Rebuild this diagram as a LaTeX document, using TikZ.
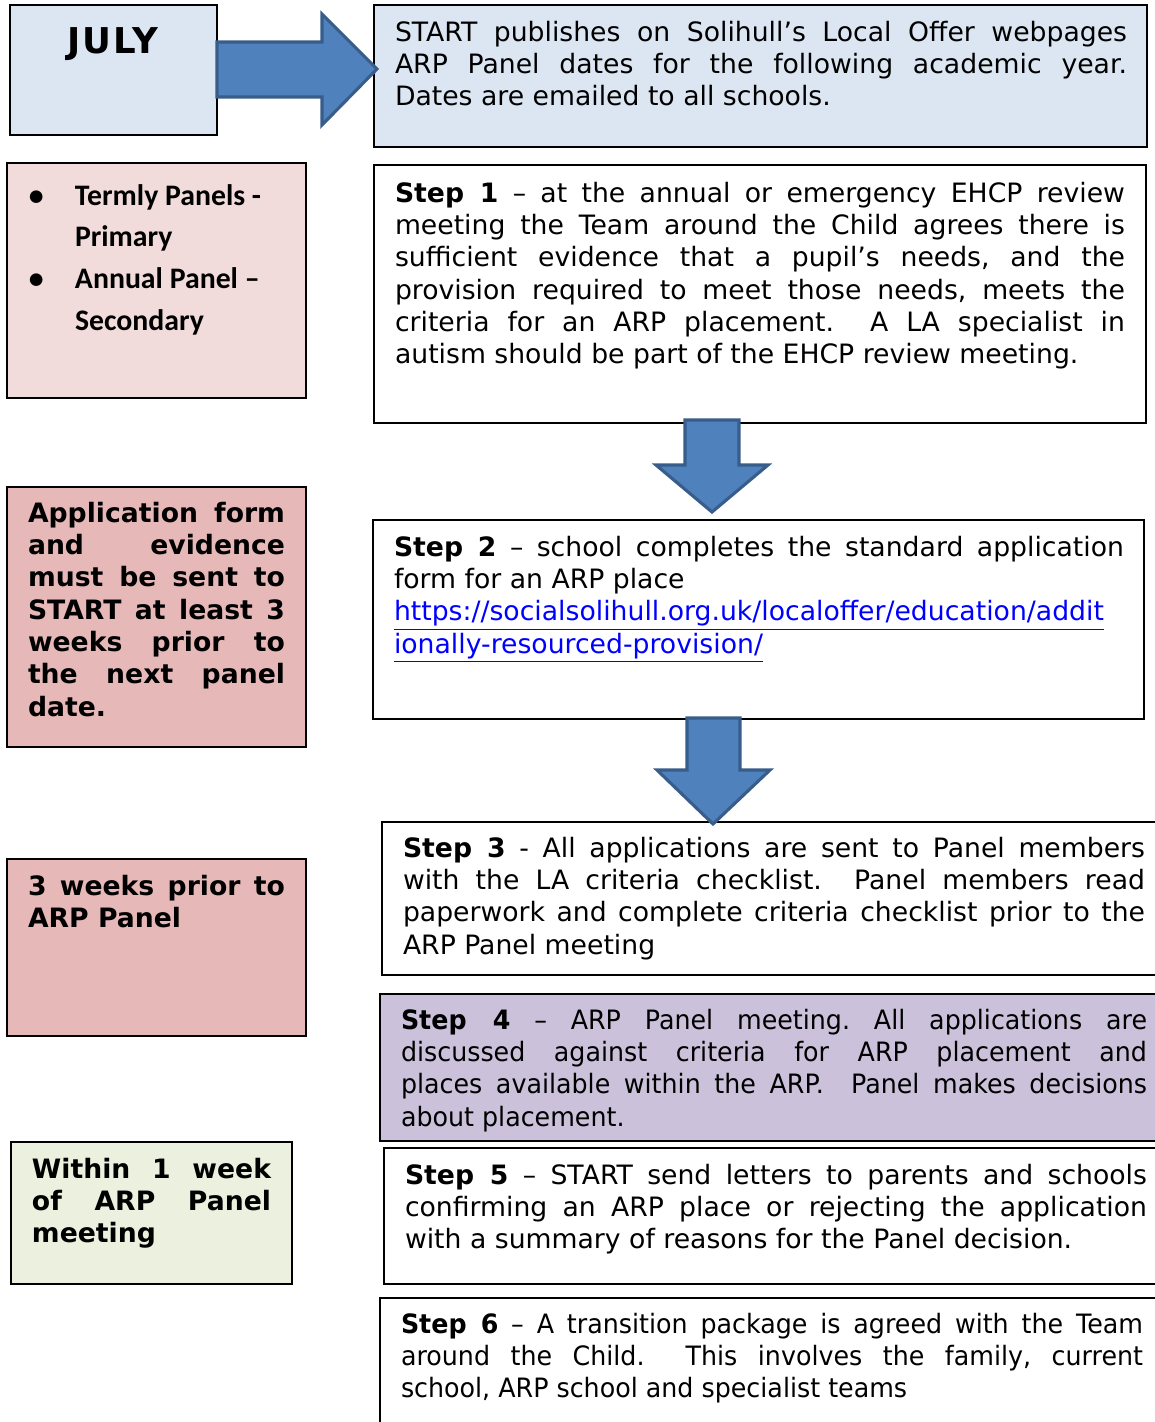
\documentclass[tikz,border=0pt]{standalone}
\usepackage{fontspec}
\setmainfont{DejaVu Sans}
\newfontfamily\tahoma[FakeStretch=0.95]{DejaVu Sans}
\newfontfamily\calibri{Carlito}
\newfontfamily\julyfont[LetterSpace=5]{DejaVu Sans}
\usetikzlibrary{calc}
\definecolor{lblue}{HTML}{DCE6F2}
\definecolor{lpink}{HTML}{F2DCDB}
\definecolor{dpink}{HTML}{E6B9B8}
\definecolor{lpurple}{HTML}{CCC1DA}
\definecolor{lgreen}{HTML}{EBF1DE}
\definecolor{arrfill}{HTML}{4F81BD}
\definecolor{arrline}{HTML}{385D8A}
\definecolor{linkblue}{HTML}{0000FF}
\tolerance=10000 \hbadness=10000 \hyphenpenalty=10000 \exhyphenpenalty=10000
\frenchspacing
\newcommand\lnk[1]{\textcolor{linkblue}{\underline{#1}}}
\begin{document}
\begin{tikzpicture}[x=0.45pt,y=-0.45pt,
  box/.style={draw=black, line width=1pt, inner sep=0pt, outer sep=0pt, anchor=north west},
  txt/.style={inner sep=0pt, outer sep=0pt, anchor=north west, align=justify, font=\frenchspacing\fontsize{12}{14.55}\selectfont},
  btxt/.style={txt, font=\frenchspacing\bfseries\fontsize{12}{14.55}\selectfont},
  ttxt/.style={txt, font=\frenchspacing\tahoma\fontsize{12}{14.55}\selectfont},
  blk/.style={fill=arrfill, draw=arrline, line width=1.4pt, line join=miter}]
\useasboundingbox (0,0) rectangle (1155,1422);

% boxes
\node[box, fill=lblue, minimum width=93.15pt, minimum height=58.5pt] (july) at (10,5) {};
\node[box, fill=lblue, minimum width=347.85pt, minimum height=63.9pt] (start) at (374,5) {};
\node[box, fill=lpink, minimum width=134.55pt, minimum height=105.75pt] (termly) at (7,163) {};
\node[box, fill=white, minimum width=347.4pt, minimum height=116.1pt] (step1) at (374,165) {};
\node[box, fill=dpink, minimum width=134.55pt, minimum height=117pt] (app) at (7,487) {};
\node[box, fill=white, minimum width=346.95pt, minimum height=89.55pt] (step2) at (373,520) {};
\node[box, fill=dpink, minimum width=134.55pt, minimum height=79.65pt] (weeks) at (7,859) {};
\node[box, fill=white, minimum width=351pt, minimum height=68.85pt] (step3) at (382,822) {};
\node[box, fill=lpurple, minimum width=351.9pt, minimum height=66.15pt] (step4) at (380,994) {};
\node[box, fill=lgreen, minimum width=126.45pt, minimum height=63.9pt] (within) at (11,1142) {};
\node[box, fill=white, minimum width=350.1pt, minimum height=61.2pt] (step5) at (384,1148) {};
\node[box, fill=white, minimum width=351.9pt, minimum height=60.3pt] (step6) at (380,1298) {};

% block arrows
\coordinate (a1) at (july.north east);
\draw[blk] ($(a1)+(0,37)$) -- ($(a1)+(105,37)$) -- ($(a1)+(105,9)$) -- ($(a1)+(160,64)$)
  -- ($(a1)+(105,120)$) -- ($(a1)+(105,92)$) -- ($(a1)+(0,92)$) -- cycle;
\coordinate (a2) at (step1.south -| 712,0);
\draw[blk] ($(a2)+(-27,-3)$) -- ($(a2)+(27,-3)$) -- ($(a2)+(27,42)$) -- ($(a2)+(56,42)$)
  -- ($(a2)+(0,89)$) -- ($(a2)+(-56,42)$) -- ($(a2)+(-27,42)$) -- cycle;
\coordinate (a3) at (step2.south -| 713,0);
\draw[blk] ($(a3)+(-26,-1)$) -- ($(a3)+(27,-1)$) -- ($(a3)+(27,51)$) -- ($(a3)+(57,51)$)
  -- ($(a3)+(0,105)$) -- ($(a3)+(-56,51)$) -- ($(a3)+(-26,51)$) -- cycle;

% texts
\node[inner sep=0pt, anchor=base, font=\julyfont\bfseries\fontsize{16}{19}\selectfont] (tjuly) at (113,53) {JULY};

\node[txt, text width=329.4pt] (tstart) at (395,18.4) {\strut START publishes on Solihull’s Local Offer webpages\linebreak ARP Panel dates for the following academic year.\linebreak Dates are emailed to all schools.};

\node[inner sep=0pt, outer sep=0pt, anchor=north west, align=left, font=\calibri\bfseries\fontsize{13.4}{18.8}\selectfont] (ttermly) at (29,175.8)
 {\strut\makebox[20.7pt][l]{•}Termly Panels -\\ \hspace*{20.7pt}Primary\\ \makebox[20.7pt][l]{•}Annual Panel –\\ \hspace*{20.7pt}Secondary};

\node[txt, text width=328.5pt] (tstep1) at (395,179.4) {\strut\textbf{Step 1} – at the annual or emergency EHCP review\linebreak meeting the Team around the Child agrees there is\linebreak sufficient evidence that a pupil’s needs, and the\linebreak provision required to meet those needs, meets the\linebreak criteria for an ARP placement.\ \ A LA specialist in\linebreak autism should be part of the EHCP review meeting.};

\node[btxt, text width=115.65pt] (tapp) at (28,499.4) {\strut Application form\linebreak and evidence\linebreak must be sent to\linebreak START at least 3\linebreak weeks prior to\linebreak the next panel\linebreak date.};

\node[txt, text width=328.5pt] (tstep2) at (394,533.4) {\strut\textbf{Step 2} – school completes the standard application\linebreak form for an ARP place\\ \lnk{https://socialsolihull.org.uk/localoffer/education/addit}\\ \lnk{ionally-resourced-provision/}};

\node[btxt, text width=115.65pt] (tweeks) at (28,872.4) {\strut 3 weeks prior to\linebreak ARP Panel};

\node[txt, text width=333.9pt] (tstep3) at (403,834.4) {\strut\textbf{Step 3} - All applications are sent to Panel members\linebreak with the LA criteria checklist.\ \ Panel members read\linebreak paperwork and complete criteria checklist prior to the\linebreak ARP Panel meeting};

\node[ttxt, text width=335.7pt] (tstep4) at (401,1006.4) {\strut\textbf{Step 4} – ARP Panel meeting. All applications are\linebreak discussed against criteria for ARP placement and\linebreak places available within the ARP.\ \ Panel makes decisions\linebreak about placement.};

\node[btxt, text width=107.55pt] (twithin) at (32,1155.4) {\strut Within 1 week\linebreak of ARP Panel\linebreak meeting};

\node[txt, text width=333.9pt] (tstep5) at (405,1161.4) {\strut\textbf{Step 5} – START send letters to parents and schools\linebreak confirming an ARP place or rejecting the application\linebreak with a summary of reasons for the Panel decision.};

\node[ttxt, text width=333.9pt] (tstep6) at (401,1310.4) {\strut\textbf{Step 6} – A transition package is agreed with the Team\linebreak around the Child.\ \ This involves the family, current\linebreak school, ARP school and specialist teams};
\end{tikzpicture}
\end{document}
